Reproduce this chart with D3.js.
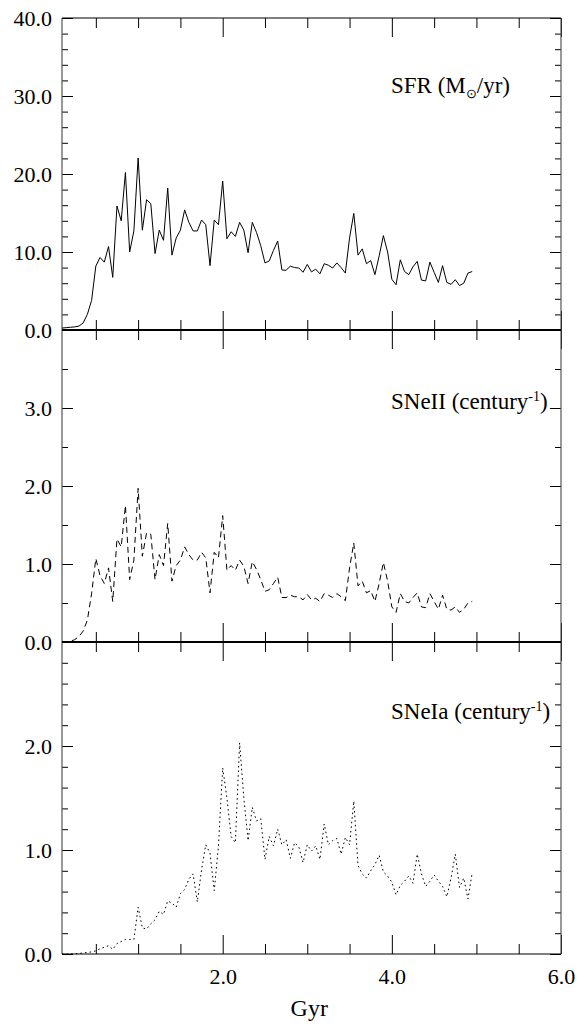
<!DOCTYPE html>
<html>
<head>
<meta charset="utf-8">
<script src="https://cdn.jsdelivr.net/npm/d3@7"></script>
<style>
body{margin:0;background:#fff}
text{font-family:"Liberation Serif",serif;font-size:22px;fill:#000}
.tick line{stroke:#000}
</style>
</head>
<body>
<svg id="chart" width="585" height="1030"></svg>
<script>
const gyr=[0.10,0.15,0.20,0.25,0.30,0.35,0.40,0.45,0.50,
 0.55,0.60,0.65,0.70,0.75,0.80,0.85,0.90,0.95,1.00,
 1.05,1.10,1.15,1.20,1.25,1.30,1.35,1.40,1.45,1.50,
 1.55,1.60,1.65,1.70,1.75,1.80,1.85,1.90,1.95,2.00,
 2.05,2.10,2.15,2.20,2.25,2.30,2.35,2.40,2.45,2.50,
 2.55,2.60,2.65,2.70,2.75,2.80,2.85,2.90,2.95,3.00,
 3.05,3.10,3.15,3.20,3.25,3.30,3.35,3.40,3.45,3.50,
 3.55,3.60,3.65,3.70,3.75,3.80,3.85,3.90,3.95,4.00,
 4.05,4.10,4.15,4.20,4.25,4.30,4.35,4.40,4.45,4.50,
 4.55,4.60,4.65,4.70,4.75,4.80,4.85,4.90,4.95]

const sfr=[0.25,0.3,0.35,0.4,0.5,0.9,2.0,3.8,8.2,
 9.3,8.7,10.7,6.75,15.9,14.0,20.2,10.0,12.7,22.05,
 12.8,16.7,16.2,9.8,12.8,11.5,18.2,9.6,11.8,12.8,
 15.4,13.8,12.7,12.7,14.1,13.5,8.25,14.1,13.5,19.1,
 11.7,12.6,12.0,13.8,12.8,9.9,13.8,12.5,10.8,8.6,
 8.85,10.2,11.4,7.7,7.65,8.2,8.0,7.95,7.4,8.4,
 7.45,7.8,7.2,8.5,8.3,7.95,8.6,8.0,7.3,11.8,
 14.95,9.6,10.4,8.5,8.9,7.1,9.5,12.1,10.0,6.5,
 5.8,9.0,7.5,7.1,8.1,8.8,6.4,6.3,8.7,7.4,
 6.1,8.25,6.1,5.85,6.45,5.7,6.0,7.3,7.5]

const sne2=[0,0,0.01,0.03,0.07,0.14,0.28,0.62,1.07,
 0.85,0.75,0.95,0.52,1.32,1.22,1.75,0.8,1.05,1.97,
 1.1,1.4,1.38,0.8,1.12,0.98,1.52,0.78,0.98,1.05,
 1.22,1.12,1.05,1.05,1.15,1.08,0.63,1.15,1.08,1.62,
 0.92,0.98,0.92,1.05,0.97,0.75,1.03,0.93,0.8,0.65,
 0.67,0.75,0.83,0.57,0.57,0.6,0.58,0.58,0.54,0.61,
 0.54,0.56,0.52,0.62,0.6,0.57,0.62,0.58,0.53,0.95,
 1.27,0.72,0.78,0.63,0.66,0.52,0.75,1.02,0.78,0.45,
 0.38,0.62,0.52,0.5,0.57,0.63,0.45,0.44,0.62,0.52,
 0.42,0.6,0.42,0.41,0.45,0.38,0.42,0.5,0.52]

const sne1a=[0,0,0,0.003,0.005,0.01,0.015,0.02,0.03,
 0.05,0.065,0.08,0.045,0.10,0.12,0.14,0.14,0.14,0.45,
 0.25,0.24,0.29,0.33,0.41,0.38,0.51,0.49,0.45,0.58,
 0.62,0.72,0.77,0.50,0.81,1.05,0.97,0.61,1.04,1.79,
 1.5,1.13,1.07,2.03,1.5,1.09,1.41,1.28,1.30,0.91,
 1.13,1.04,1.20,1.05,1.10,0.92,1.07,1.03,0.88,1.05,
 0.99,1.04,0.91,1.25,1.05,1.09,1.11,0.96,1.12,1.05,
 1.47,0.85,0.77,0.73,0.80,0.86,0.95,0.79,0.75,0.69,
 0.57,0.66,0.70,0.75,0.68,0.96,0.77,0.65,0.70,0.76,
 0.70,0.65,0.55,0.73,0.96,0.64,0.73,0.53,0.78]

const xMajor=[2,4,6]
const sfrTicks=[0,10,20,30,40]
const sne2Ticks=[0,1,2,3]
const sne1aTicks=[0,1,2]

const svg=d3.select("#chart")
const left=62, right=561, top0=18, panelH=312

const x=d3.scaleLinear().domain([0.1,6.0]).range([left,right])

const panels=[
  {values:sfr, max:40, minorCount:20, majors:sfrTicks, dash:null, title:"sfr"},
  {values:sne2, max:4, minorCount:8, majors:sne2Ticks, dash:"6,4", title:"SNeII"},
  {values:sne1a, max:3, minorCount:12, majors:sne1aTicks, dash:"1.6,3", title:"SNeIa"}
]

const fmt=d3.format(".1f")

panels.forEach((p,k)=>{
  const top=top0+k*panelH, bottom=top+panelH
  const y=d3.scaleLinear().domain([0,p.max]).range([bottom,top])
  const g=svg.append("g")

  // y ticks, left and right, pointing in
  const yMinor=y.ticks(p.minorCount).filter(v=>v>0 && v<p.max)
  g.append("g").attr("transform",`translate(${left},0)`)
    .call(d3.axisLeft(y).tickValues(yMinor).tickSize(-6).tickFormat(""))
  g.append("g").attr("transform",`translate(${left},0)`)
    .call(d3.axisLeft(y).tickValues(p.majors).tickSize(-11).tickPadding(10).tickFormat(fmt))
  g.append("g").attr("transform",`translate(${right},0)`)
    .call(d3.axisRight(y).tickValues(yMinor).tickSize(-6).tickFormat(""))
  g.append("g").attr("transform",`translate(${right},0)`)
    .call(d3.axisRight(y).tickValues(p.majors).tickSize(-11).tickFormat(""))

  // x ticks top and bottom
  const xMinor=x.ticks(12).filter(v=>!xMajor.includes(v))
  g.append("g").attr("transform",`translate(0,${top})`)
    .call(d3.axisBottom(x).tickValues(xMinor).tickSize(10).tickFormat(""))
  g.append("g").attr("transform",`translate(0,${top})`)
    .call(d3.axisBottom(x).tickValues(xMajor).tickSize(19).tickFormat(""))
  g.append("g").attr("transform",`translate(0,${bottom})`)
    .call(d3.axisBottom(x).tickValues(xMinor).tickSize(-10).tickFormat(""))
  g.append("g").attr("transform",`translate(0,${bottom})`)
    .call(d3.axisBottom(x).tickValues(xMajor).tickSize(-19).tickPadding(14)
      .tickFormat(k==2?fmt:""))

  g.selectAll(".domain").remove()
  g.selectAll(".tick text").style("font-size","22px").style("font-family",'"Liberation Serif",serif')

  // frame
  g.append("line").attr("x1",left).attr("x2",left).attr("y1",top).attr("y2",bottom)
    .attr("stroke","#555").attr("stroke-width",1.2)
  g.append("line").attr("x1",right).attr("x2",right).attr("y1",top).attr("y2",bottom)
    .attr("stroke","#555").attr("stroke-width",1.2)
  g.append("line").attr("x1",left).attr("x2",right).attr("y1",top).attr("y2",top)
    .attr("stroke","#000").attr("stroke-width",k==0?1.2:2)
  g.append("line").attr("x1",left).attr("x2",right).attr("y1",bottom).attr("y2",bottom)
    .attr("stroke","#000").attr("stroke-width",k==2?1.2:2)

  const line=d3.line().x((d,i)=>x(gyr[i])).y(d=>y(d))
  g.append("path").datum(p.values)
    .attr("d",line)
    .attr("fill","none")
    .attr("stroke","#000")
    .attr("stroke-width",1)
    .attr("stroke-dasharray",p.dash)

  // panel title
  const t=g.append("text").attr("x",391).attr("y",top+[75,79,77][k])
    .style("font-size","23px")
  if(k==0){
    t.append("tspan").text("SFR (M")
    t.append("tspan").attr("dy",5).style("font-size","13px").text("⊙")
    t.append("tspan").attr("dy",-5).text("/yr)")
  }else{
    t.append("tspan").text(p.title+" (century")
    t.append("tspan").attr("dy",-8).style("font-size","14px").text("-1")
    t.append("tspan").attr("dy",8).text(")")
  }
})

svg.append("text")
  .attr("x",x(3.0)+2)
  .attr("y",1016)
  .attr("text-anchor","middle")
  .style("font-size","24px")
  .text("Gyr")
</script>
</body>
</html>
